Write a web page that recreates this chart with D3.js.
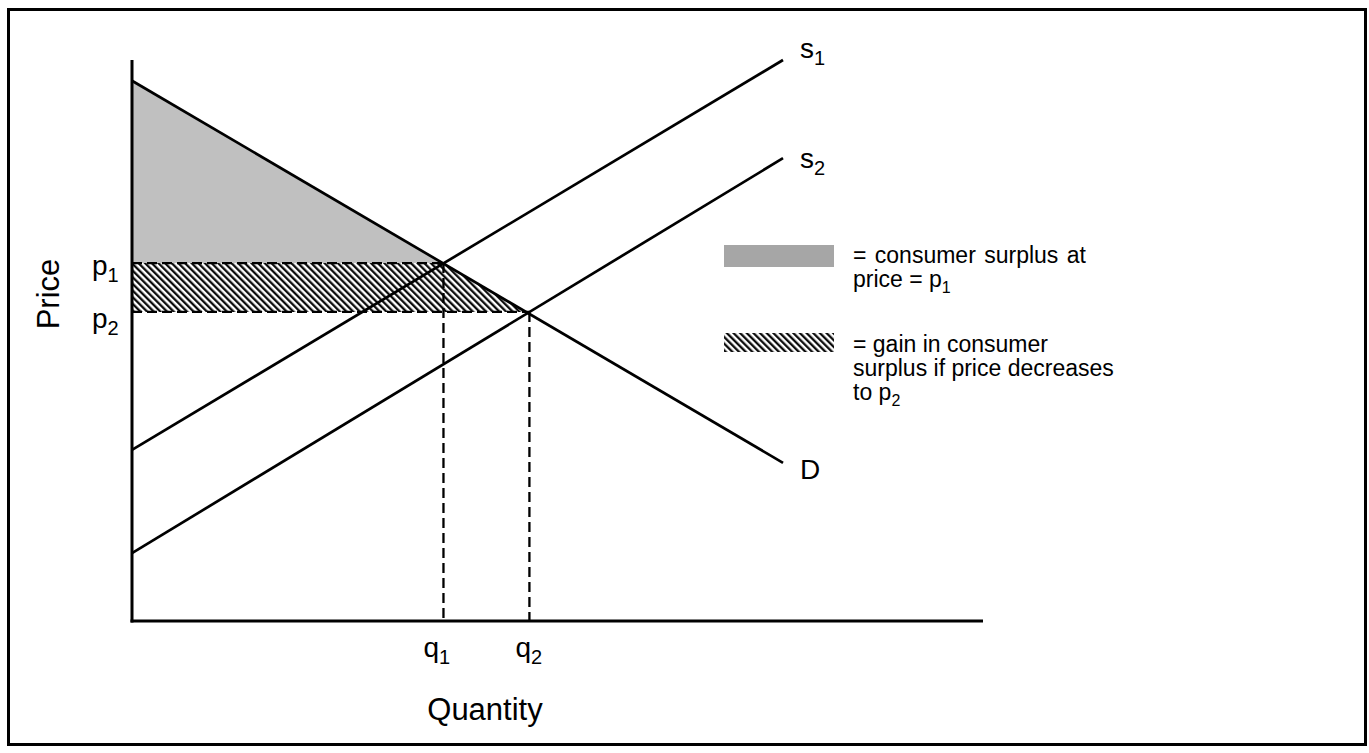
<!DOCTYPE html>
<html>
<head>
<meta charset="utf-8">
<script src="https://cdn.jsdelivr.net/npm/d3@7"></script>
<style>
  html, body { margin: 0; padding: 0; background: #fff; }
  svg { display: block; font-family: "Liberation Sans", Arial, sans-serif; }
</style>
</head>
<body>
<svg id="chart" width="1369" height="753"></svg>
<script>
// ---- data (abstract units) ----
const demandPts  = [[0, 96.3], [76.5, 28.2]];
const supply1Pts = [[0, 30.5], [76.5, 100]];
const supply2Pts = [[0, 12.1], [76.5, 82.5]];
const priceLevels = [63.8, 55.1];
const priceLabels = [["p", "1"], ["p", "2"]];
const quantityLevels = [36.6, 46.7];
const quantityLabels = [["q", "1"], ["q", "2"]];
const curveLabels = [["s", "1"], ["s", "2"], ["D", ""]];
const axisTitles = ["Quantity", "Price"];
const legendLines1 = ["= consumer surplus at", ["price = p", "1"]];
const legendLines2 = ["= gain in consumer", "surplus if price decreases", ["to p", "2"]];

// ---- setup ----
const svg = d3.select("#chart");
const x = d3.scaleLinear().domain([0, 100]).range([132, 983]);
const y = d3.scaleLinear().domain([0, 100]).range([621, 60]);
const line = d3.line().x(d => x(d[0])).y(d => y(d[1]));

// hatch pattern
const defs = svg.append("defs");
const pat = defs.append("pattern")
  .attr("id", "hatch").attr("patternUnits", "userSpaceOnUse")
  .attr("width", 4.7).attr("height", 10)
  .attr("patternTransform", "rotate(-45)");
pat.append("rect").attr("width", 4.7).attr("height", 10).attr("fill", "#fff");
pat.append("line").attr("x1", 1.2).attr("y1", 0).attr("x2", 1.2).attr("y2", 10)
  .attr("stroke", "#000").attr("stroke-width", 2.2);

// frame
svg.append("rect").attr("x", 8.5).attr("y", 9.5).attr("width", 1357).attr("height", 735)
  .attr("fill", "none").attr("stroke", "#000").attr("stroke-width", 3);

// helper: demand x for a given price
const dSlope = (demandPts[1][1] - demandPts[0][1]) / (demandPts[1][0] - demandPts[0][0]);
const demandX = p => demandPts[0][0] + (p - demandPts[0][1]) / dSlope;

const [p1, p2] = priceLevels;

// consumer surplus triangle
svg.append("path")
  .attr("d", line([[0, demandPts[0][1]], [demandX(p1), p1], [0, p1]]) + "Z")
  .attr("fill", "#c0c0c0");

// gain area (hatched)
svg.append("path")
  .attr("d", line([[0, p1], [demandX(p1), p1], [demandX(p2), p2], [0, p2]]) + "Z")
  .attr("fill", "url(#hatch)");

// curves
[demandPts, supply1Pts, supply2Pts].forEach(pts => {
  svg.append("path").attr("d", line(pts)).attr("fill", "none")
    .attr("stroke", "#000").attr("stroke-width", 2.7);
});

// dashed guides
const dash = "10,5";
priceLevels.forEach((p, i) => {
  svg.append("line").attr("x1", x(0)).attr("x2", x(quantityLevels[i]))
    .attr("y1", y(p)).attr("y2", y(p))
    .attr("stroke", "#000").attr("stroke-width", 2.3).attr("stroke-dasharray", dash);
  svg.append("line").attr("x1", x(quantityLevels[i])).attr("x2", x(quantityLevels[i]))
    .attr("y1", y(p)).attr("y2", y(0))
    .attr("stroke", "#000").attr("stroke-width", 2.3).attr("stroke-dasharray", dash);
});

// axes
svg.append("line").attr("x1", x(0)).attr("x2", x(0)).attr("y1", y(100)).attr("y2", y(0) + 1.5)
  .attr("stroke", "#000").attr("stroke-width", 3);
svg.append("line").attr("x1", x(0) - 1.5).attr("x2", x(100)).attr("y1", y(0)).attr("y2", y(0))
  .attr("stroke", "#000").attr("stroke-width", 3);

// subscripted label helper
function subLabel(g, xx, yy, main, sub, size, subSize, anchor) {
  const t = g.append("text").attr("x", xx).attr("y", yy)
    .attr("font-size", size).attr("fill", "#000").attr("text-anchor", anchor || "start");
  t.append("tspan").text(main);
  if (sub) t.append("tspan").attr("font-size", subSize).attr("dy", size * 0.24).text(sub);
  return t;
}

// price labels
priceLevels.forEach((p, i) => {
  subLabel(svg, 92, y(p) + 12 + i * 4, priceLabels[i][0], priceLabels[i][1], 28, 20);
});
// quantity labels
quantityLevels.forEach((q, i) => {
  subLabel(svg, x(q) - 20 + i * 6, 657, quantityLabels[i][0], quantityLabels[i][1], 28, 20);
});
// curve labels
const curveEnds = [supply1Pts[1], supply2Pts[1], demandPts[1]];
curveEnds.forEach((e, i) => {
  const dy = i === 2 ? 16 : -2 + i * 12;
  subLabel(svg, x(e[0]) + 17, y(e[1]) + dy, curveLabels[i][0], curveLabels[i][1], 28, 20);
});

// axis titles
svg.append("text").attr("x", 485).attr("y", 720).attr("text-anchor", "middle")
  .attr("font-size", 31).text(axisTitles[0]);
svg.append("text").attr("transform", "translate(59,294) rotate(-90)")
  .attr("text-anchor", "middle").attr("font-size", 31).text(axisTitles[1]);

// legend
svg.append("rect").attr("x", 724).attr("y", 245).attr("width", 110).attr("height", 22)
  .attr("fill", "#a6a6a6");
svg.append("rect").attr("x", 724).attr("y", 333).attr("width", 110).attr("height", 19)
  .attr("fill", "url(#hatch)");

const lx = 853, lfs = 23, lh = 24;
legendLines1.forEach((l, i) => {
  if (Array.isArray(l)) subLabel(svg, lx, 263 + i * lh, l[0], l[1], lfs, 16);
  else svg.append("text").attr("x", lx).attr("y", 263 + i * lh).attr("font-size", lfs)
    .attr("word-spacing", 2).text(l);
});
legendLines2.forEach((l, i) => {
  if (Array.isArray(l)) subLabel(svg, lx, 352 + i * lh, l[0], l[1], lfs, 16);
  else svg.append("text").attr("x", lx).attr("y", 352 + i * lh).attr("font-size", lfs).text(l);
});
</script>
</body>
</html>
